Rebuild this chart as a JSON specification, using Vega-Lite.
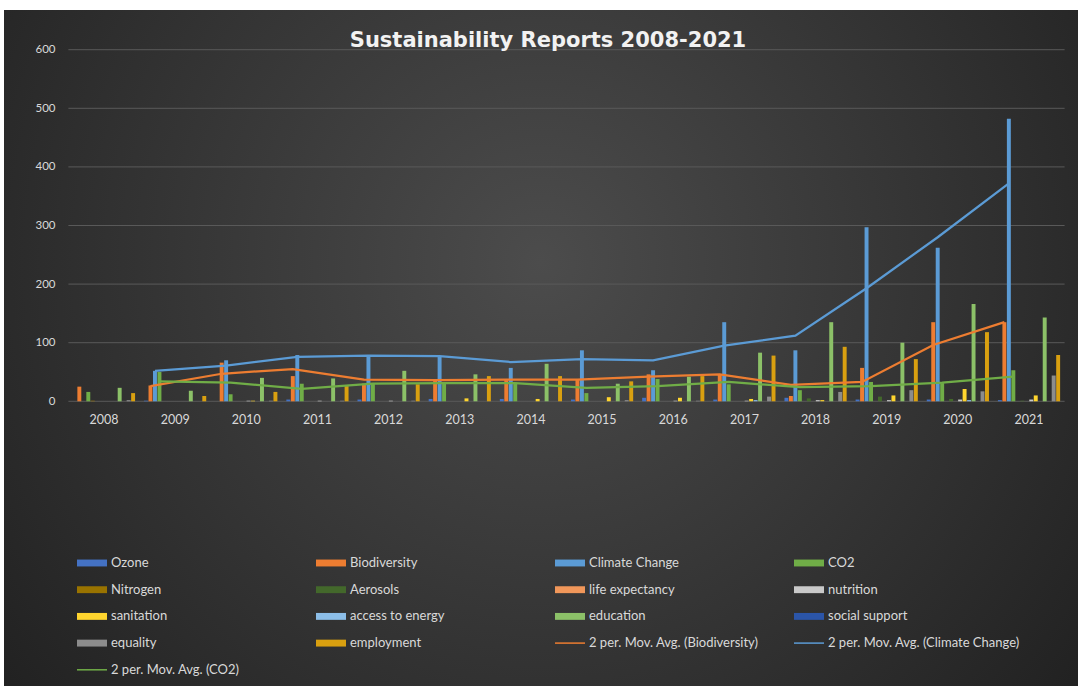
{
  "$schema": "https://vega.github.io/schema/vega-lite/v6.json",
  "width": 1074,
  "height": 676,
  "autosize": {"type": "none"},
  "padding": {"left": 4, "top": 10, "right": 0, "bottom": 0},
  "background": "#ffffff",
  "view": {
    "stroke": null,
    "fill": {
      "gradient": "radial",
      "x1": 0.5, "y1": 0.42, "r1": 0,
      "x2": 0.5, "y2": 0.42, "r2": 0.72,
      "stops": [
        {"offset": 0, "color": "#4c4c4c"},
        {"offset": 1, "color": "#1c1c1c"}
      ]
    }
  },
  "title": {
    "text": "Sustainability Reports 2008-2021",
    "font": "DejaVu Sans",
    "fontSize": 21,
    "fontWeight": "bold",
    "color": "#f2f2f2",
    "anchor": "middle",
    "frame": "group",
    "offset": -41,
    "dx": 7
  },
  "config": {
    "axisX": {
      "title": null, "offset": -273,
      "domain": false, "ticks": false, "tickSize": 0, "grid": false,
      "labelPadding": 0, "labelAngle": 0,
      "labelFont": "Lato", "labelFontSize": 12.5, "labelColor": "#d9d9d9"
    },
    "axisY": {
      "title": null, "offset": -51,
      "domain": false, "ticks": false, "tickSize": 0, "grid": false,
      "labelPadding": 0,
      "labelFont": "Lato", "labelFontSize": 11.5, "labelColor": "#d9d9d9"
    }
  },
  "datasets": {
    "grid": [
      {"level": 0}, {"level": 100}, {"level": 200}, {"level": 300},
      {"level": 400}, {"level": 500}, {"level": 600}
    ],
    "reports": [
      {"year": "2008", "series": "Biodiversity", "count": 25},
      {"year": "2008", "series": "CO2", "count": 16},
      {"year": "2008", "series": "Nitrogen", "count": 1},
      {"year": "2008", "series": "education", "count": 23},
      {"year": "2008", "series": "equality", "count": 2},
      {"year": "2008", "series": "employment", "count": 14},

      {"year": "2009", "series": "Ozone", "count": 1},
      {"year": "2009", "series": "Biodiversity", "count": 27},
      {"year": "2009", "series": "Climate Change", "count": 52},
      {"year": "2009", "series": "CO2", "count": 50},
      {"year": "2009", "series": "education", "count": 18},
      {"year": "2009", "series": "employment", "count": 9},

      {"year": "2010", "series": "Biodiversity", "count": 66},
      {"year": "2010", "series": "Climate Change", "count": 70},
      {"year": "2010", "series": "CO2", "count": 12},
      {"year": "2010", "series": "nutrition", "count": 1},
      {"year": "2010", "series": "sanitation", "count": 1},
      {"year": "2010", "series": "education", "count": 40},
      {"year": "2010", "series": "equality", "count": 1},
      {"year": "2010", "series": "employment", "count": 16},

      {"year": "2011", "series": "Ozone", "count": 3},
      {"year": "2011", "series": "Biodiversity", "count": 43},
      {"year": "2011", "series": "Climate Change", "count": 79},
      {"year": "2011", "series": "CO2", "count": 30},
      {"year": "2011", "series": "nutrition", "count": 1},
      {"year": "2011", "series": "education", "count": 39},
      {"year": "2011", "series": "equality", "count": 1},
      {"year": "2011", "series": "employment", "count": 26},

      {"year": "2012", "series": "Ozone", "count": 3},
      {"year": "2012", "series": "Biodiversity", "count": 30},
      {"year": "2012", "series": "Climate Change", "count": 77},
      {"year": "2012", "series": "CO2", "count": 31},
      {"year": "2012", "series": "nutrition", "count": 1},
      {"year": "2012", "series": "education", "count": 52},
      {"year": "2012", "series": "equality", "count": 1},
      {"year": "2012", "series": "employment", "count": 29},

      {"year": "2013", "series": "Ozone", "count": 4},
      {"year": "2013", "series": "Biodiversity", "count": 38},
      {"year": "2013", "series": "Climate Change", "count": 76},
      {"year": "2013", "series": "CO2", "count": 30},
      {"year": "2013", "series": "sanitation", "count": 5},
      {"year": "2013", "series": "education", "count": 46},
      {"year": "2013", "series": "employment", "count": 43},

      {"year": "2014", "series": "Ozone", "count": 4},
      {"year": "2014", "series": "Biodiversity", "count": 36},
      {"year": "2014", "series": "Climate Change", "count": 57},
      {"year": "2014", "series": "CO2", "count": 31},
      {"year": "2014", "series": "sanitation", "count": 4},
      {"year": "2014", "series": "education", "count": 64},
      {"year": "2014", "series": "employment", "count": 43},

      {"year": "2015", "series": "Ozone", "count": 3},
      {"year": "2015", "series": "Biodiversity", "count": 38},
      {"year": "2015", "series": "Climate Change", "count": 87},
      {"year": "2015", "series": "CO2", "count": 14},
      {"year": "2015", "series": "sanitation", "count": 7},
      {"year": "2015", "series": "education", "count": 30},
      {"year": "2015", "series": "equality", "count": 2},
      {"year": "2015", "series": "employment", "count": 34},

      {"year": "2016", "series": "Ozone", "count": 6},
      {"year": "2016", "series": "Biodiversity", "count": 46},
      {"year": "2016", "series": "Climate Change", "count": 53},
      {"year": "2016", "series": "CO2", "count": 38},
      {"year": "2016", "series": "nutrition", "count": 1},
      {"year": "2016", "series": "sanitation", "count": 6},
      {"year": "2016", "series": "education", "count": 42},
      {"year": "2016", "series": "equality", "count": 1},
      {"year": "2016", "series": "employment", "count": 43},

      {"year": "2017", "series": "Ozone", "count": 3},
      {"year": "2017", "series": "Biodiversity", "count": 46},
      {"year": "2017", "series": "Climate Change", "count": 135},
      {"year": "2017", "series": "CO2", "count": 29},
      {"year": "2017", "series": "nutrition", "count": 1},
      {"year": "2017", "series": "sanitation", "count": 4},
      {"year": "2017", "series": "access to energy", "count": 2},
      {"year": "2017", "series": "education", "count": 83},
      {"year": "2017", "series": "equality", "count": 8},
      {"year": "2017", "series": "employment", "count": 78},

      {"year": "2018", "series": "Ozone", "count": 6},
      {"year": "2018", "series": "Biodiversity", "count": 9},
      {"year": "2018", "series": "Climate Change", "count": 87},
      {"year": "2018", "series": "CO2", "count": 19},
      {"year": "2018", "series": "Aerosols", "count": 5},
      {"year": "2018", "series": "nutrition", "count": 2},
      {"year": "2018", "series": "sanitation", "count": 2},
      {"year": "2018", "series": "education", "count": 135},
      {"year": "2018", "series": "equality", "count": 16},
      {"year": "2018", "series": "employment", "count": 93},

      {"year": "2019", "series": "Ozone", "count": 3},
      {"year": "2019", "series": "Biodiversity", "count": 57},
      {"year": "2019", "series": "Climate Change", "count": 297},
      {"year": "2019", "series": "CO2", "count": 33},
      {"year": "2019", "series": "Aerosols", "count": 8},
      {"year": "2019", "series": "nutrition", "count": 2},
      {"year": "2019", "series": "sanitation", "count": 10},
      {"year": "2019", "series": "education", "count": 100},
      {"year": "2019", "series": "equality", "count": 19},
      {"year": "2019", "series": "employment", "count": 72},

      {"year": "2020", "series": "Ozone", "count": 3},
      {"year": "2020", "series": "Biodiversity", "count": 135},
      {"year": "2020", "series": "Climate Change", "count": 262},
      {"year": "2020", "series": "CO2", "count": 31},
      {"year": "2020", "series": "Aerosols", "count": 4},
      {"year": "2020", "series": "nutrition", "count": 3},
      {"year": "2020", "series": "sanitation", "count": 21},
      {"year": "2020", "series": "access to energy", "count": 2},
      {"year": "2020", "series": "education", "count": 166},
      {"year": "2020", "series": "equality", "count": 17},
      {"year": "2020", "series": "employment", "count": 118},

      {"year": "2021", "series": "Ozone", "count": 2},
      {"year": "2021", "series": "Biodiversity", "count": 135},
      {"year": "2021", "series": "Climate Change", "count": 482},
      {"year": "2021", "series": "CO2", "count": 53},
      {"year": "2021", "series": "Aerosols", "count": 1},
      {"year": "2021", "series": "nutrition", "count": 3},
      {"year": "2021", "series": "sanitation", "count": 10},
      {"year": "2021", "series": "education", "count": 143},
      {"year": "2021", "series": "equality", "count": 44},
      {"year": "2021", "series": "employment", "count": 79}
    ],
    "trends": [
      {"year": "2009", "bar": "Biodiversity", "trend": "2 per. Mov. Avg. (Biodiversity)", "avg": 26},
      {"year": "2010", "bar": "Biodiversity", "trend": "2 per. Mov. Avg. (Biodiversity)", "avg": 47},
      {"year": "2011", "bar": "Biodiversity", "trend": "2 per. Mov. Avg. (Biodiversity)", "avg": 55},
      {"year": "2012", "bar": "Biodiversity", "trend": "2 per. Mov. Avg. (Biodiversity)", "avg": 37},
      {"year": "2013", "bar": "Biodiversity", "trend": "2 per. Mov. Avg. (Biodiversity)", "avg": 36},
      {"year": "2014", "bar": "Biodiversity", "trend": "2 per. Mov. Avg. (Biodiversity)", "avg": 37},
      {"year": "2015", "bar": "Biodiversity", "trend": "2 per. Mov. Avg. (Biodiversity)", "avg": 37},
      {"year": "2016", "bar": "Biodiversity", "trend": "2 per. Mov. Avg. (Biodiversity)", "avg": 42},
      {"year": "2017", "bar": "Biodiversity", "trend": "2 per. Mov. Avg. (Biodiversity)", "avg": 46},
      {"year": "2018", "bar": "Biodiversity", "trend": "2 per. Mov. Avg. (Biodiversity)", "avg": 28},
      {"year": "2019", "bar": "Biodiversity", "trend": "2 per. Mov. Avg. (Biodiversity)", "avg": 33},
      {"year": "2020", "bar": "Biodiversity", "trend": "2 per. Mov. Avg. (Biodiversity)", "avg": 96},
      {"year": "2021", "bar": "Biodiversity", "trend": "2 per. Mov. Avg. (Biodiversity)", "avg": 135},

      {"year": "2009", "bar": "Climate Change", "trend": "2 per. Mov. Avg. (Climate Change)", "avg": 52},
      {"year": "2010", "bar": "Climate Change", "trend": "2 per. Mov. Avg. (Climate Change)", "avg": 61},
      {"year": "2011", "bar": "Climate Change", "trend": "2 per. Mov. Avg. (Climate Change)", "avg": 76},
      {"year": "2012", "bar": "Climate Change", "trend": "2 per. Mov. Avg. (Climate Change)", "avg": 78},
      {"year": "2013", "bar": "Climate Change", "trend": "2 per. Mov. Avg. (Climate Change)", "avg": 77},
      {"year": "2014", "bar": "Climate Change", "trend": "2 per. Mov. Avg. (Climate Change)", "avg": 67},
      {"year": "2015", "bar": "Climate Change", "trend": "2 per. Mov. Avg. (Climate Change)", "avg": 72},
      {"year": "2016", "bar": "Climate Change", "trend": "2 per. Mov. Avg. (Climate Change)", "avg": 70},
      {"year": "2017", "bar": "Climate Change", "trend": "2 per. Mov. Avg. (Climate Change)", "avg": 95},
      {"year": "2018", "bar": "Climate Change", "trend": "2 per. Mov. Avg. (Climate Change)", "avg": 112},
      {"year": "2019", "bar": "Climate Change", "trend": "2 per. Mov. Avg. (Climate Change)", "avg": 193},
      {"year": "2020", "bar": "Climate Change", "trend": "2 per. Mov. Avg. (Climate Change)", "avg": 280},
      {"year": "2021", "bar": "Climate Change", "trend": "2 per. Mov. Avg. (Climate Change)", "avg": 372},

      {"year": "2009", "bar": "CO2", "trend": "2 per. Mov. Avg. (CO2)", "avg": 34},
      {"year": "2010", "bar": "CO2", "trend": "2 per. Mov. Avg. (CO2)", "avg": 32},
      {"year": "2011", "bar": "CO2", "trend": "2 per. Mov. Avg. (CO2)", "avg": 21},
      {"year": "2012", "bar": "CO2", "trend": "2 per. Mov. Avg. (CO2)", "avg": 30},
      {"year": "2013", "bar": "CO2", "trend": "2 per. Mov. Avg. (CO2)", "avg": 31},
      {"year": "2014", "bar": "CO2", "trend": "2 per. Mov. Avg. (CO2)", "avg": 31},
      {"year": "2015", "bar": "CO2", "trend": "2 per. Mov. Avg. (CO2)", "avg": 23},
      {"year": "2016", "bar": "CO2", "trend": "2 per. Mov. Avg. (CO2)", "avg": 26},
      {"year": "2017", "bar": "CO2", "trend": "2 per. Mov. Avg. (CO2)", "avg": 33},
      {"year": "2018", "bar": "CO2", "trend": "2 per. Mov. Avg. (CO2)", "avg": 24},
      {"year": "2019", "bar": "CO2", "trend": "2 per. Mov. Avg. (CO2)", "avg": 26},
      {"year": "2020", "bar": "CO2", "trend": "2 per. Mov. Avg. (CO2)", "avg": 32},
      {"year": "2021", "bar": "CO2", "trend": "2 per. Mov. Avg. (CO2)", "avg": 42}
    ]
  },
  "layer": [
    {
      "data": {"name": "grid"},
      "mark": {"type": "rule", "color": "#595959", "strokeWidth": 1},
      "encoding": {
        "y": {
          "field": "level", "type": "quantitative",
          "scale": {"domain": [0, 600], "range": [391.3, 39.7], "nice": false, "zero": true},
          "axis": {"values": [0, 100, 200, 300, 400, 500, 600]}
        },
        "x": {
          "datum": "2008", "type": "ordinal", "bandPosition": 0,
          "scale": {
            "domain": ["2008","2009","2010","2011","2012","2013","2014","2015","2016","2017","2018","2019","2020","2021"],
            "range": [64.4, 1060.6], "paddingInner": 0, "paddingOuter": 0
          }
        },
        "x2": {"datum": "2021", "bandPosition": 1}
      }
    },
    {
      "data": {"name": "reports"},
      "mark": {"type": "bar"},
      "encoding": {
        "x": {
          "field": "year", "type": "ordinal",
          "scale": {
            "domain": ["2008","2009","2010","2011","2012","2013","2014","2015","2016","2017","2018","2019","2020","2021"],
            "range": [64.4, 1060.6], "paddingInner": 0, "paddingOuter": 0
          }
        },
        "xOffset": {
          "field": "series", "type": "nominal",
          "scale": {
            "domain": ["Ozone","Biodiversity","Climate Change","CO2","Nitrogen","Aerosols","life expectancy","nutrition","sanitation","access to energy","education","social support","equality","employment"],
            "paddingInner": 0.12, "paddingOuter": 1.1
          }
        },
        "y": {
          "field": "count", "type": "quantitative",
          "scale": {"domain": [0, 600], "range": [391.3, 39.7], "nice": false, "zero": true},
          "axis": {"values": [0, 100, 200, 300, 400, 500, 600]}
        },
        "color": {
          "field": "series", "type": "nominal",
          "scale": {
            "domain": ["Ozone","Biodiversity","Climate Change","CO2","Nitrogen","Aerosols","life expectancy","nutrition","sanitation","access to energy","education","social support","equality","employment","2 per. Mov. Avg. (Biodiversity)","2 per. Mov. Avg. (Climate Change)","2 per. Mov. Avg. (CO2)"],
            "range": ["#4472c4","#ed7d31","#5b9bd5","#70ad47","#997300","#43682b","#f1975a","#c9c9c9","#ffd52e","#8cbee8","#8cc168","#2b55a8","#8c8c8c","#d9a010","#ed7d31","#5b9bd5","#70ad47"]
          },
          "legend": {
            "title": null,
            "orient": "none", "legendX": 73, "legendY": 538,
            "direction": "horizontal", "columns": 4, "gridAlign": "all",
            "columnPadding": 13, "rowPadding": 4.7, "padding": 0,
            "symbolSize": 900, "labelOffset": 4, "labelLimit": 400,
            "labelFont": "Lato", "labelFontSize": 13, "labelColor": "#d9d9d9",
            "encode": {
              "symbols": {
                "update": {
                  "shape": {"signal": "indexof(datum.value, '2 per.') === 0 ? 'M-1,-0.05H1V0.05H-1Z' : 'M-1,-0.23H1V0.23H-1Z'"},
                  "fill": {"scale": "color", "field": "value"},
                  "fillOpacity": {"value": 1},
                  "opacity": {"value": 1},
                  "strokeWidth": {"value": 0}
                }
              }
            }
          }
        }
      }
    },
    {
      "data": {"name": "trends"},
      "mark": {"type": "line", "strokeWidth": 2.25},
      "encoding": {
        "x": {
          "field": "year", "type": "ordinal",
          "scale": {
            "domain": ["2008","2009","2010","2011","2012","2013","2014","2015","2016","2017","2018","2019","2020","2021"],
            "range": [64.4, 1060.6], "paddingInner": 0, "paddingOuter": 0
          }
        },
        "xOffset": {
          "field": "bar", "type": "nominal",
          "scale": {
            "domain": ["Ozone","Biodiversity","Climate Change","CO2","Nitrogen","Aerosols","life expectancy","nutrition","sanitation","access to energy","education","social support","equality","employment"],
            "paddingInner": 0.12, "paddingOuter": 1.1
          }
        },
        "y": {
          "field": "avg", "type": "quantitative",
          "scale": {"domain": [0, 600], "range": [391.3, 39.7], "nice": false, "zero": true},
          "axis": {"values": [0, 100, 200, 300, 400, 500, 600]}
        },
        "color": {"field": "trend", "type": "nominal", "legend": null},
        "detail": {"field": "trend"}
      }
    }
  ]
}
